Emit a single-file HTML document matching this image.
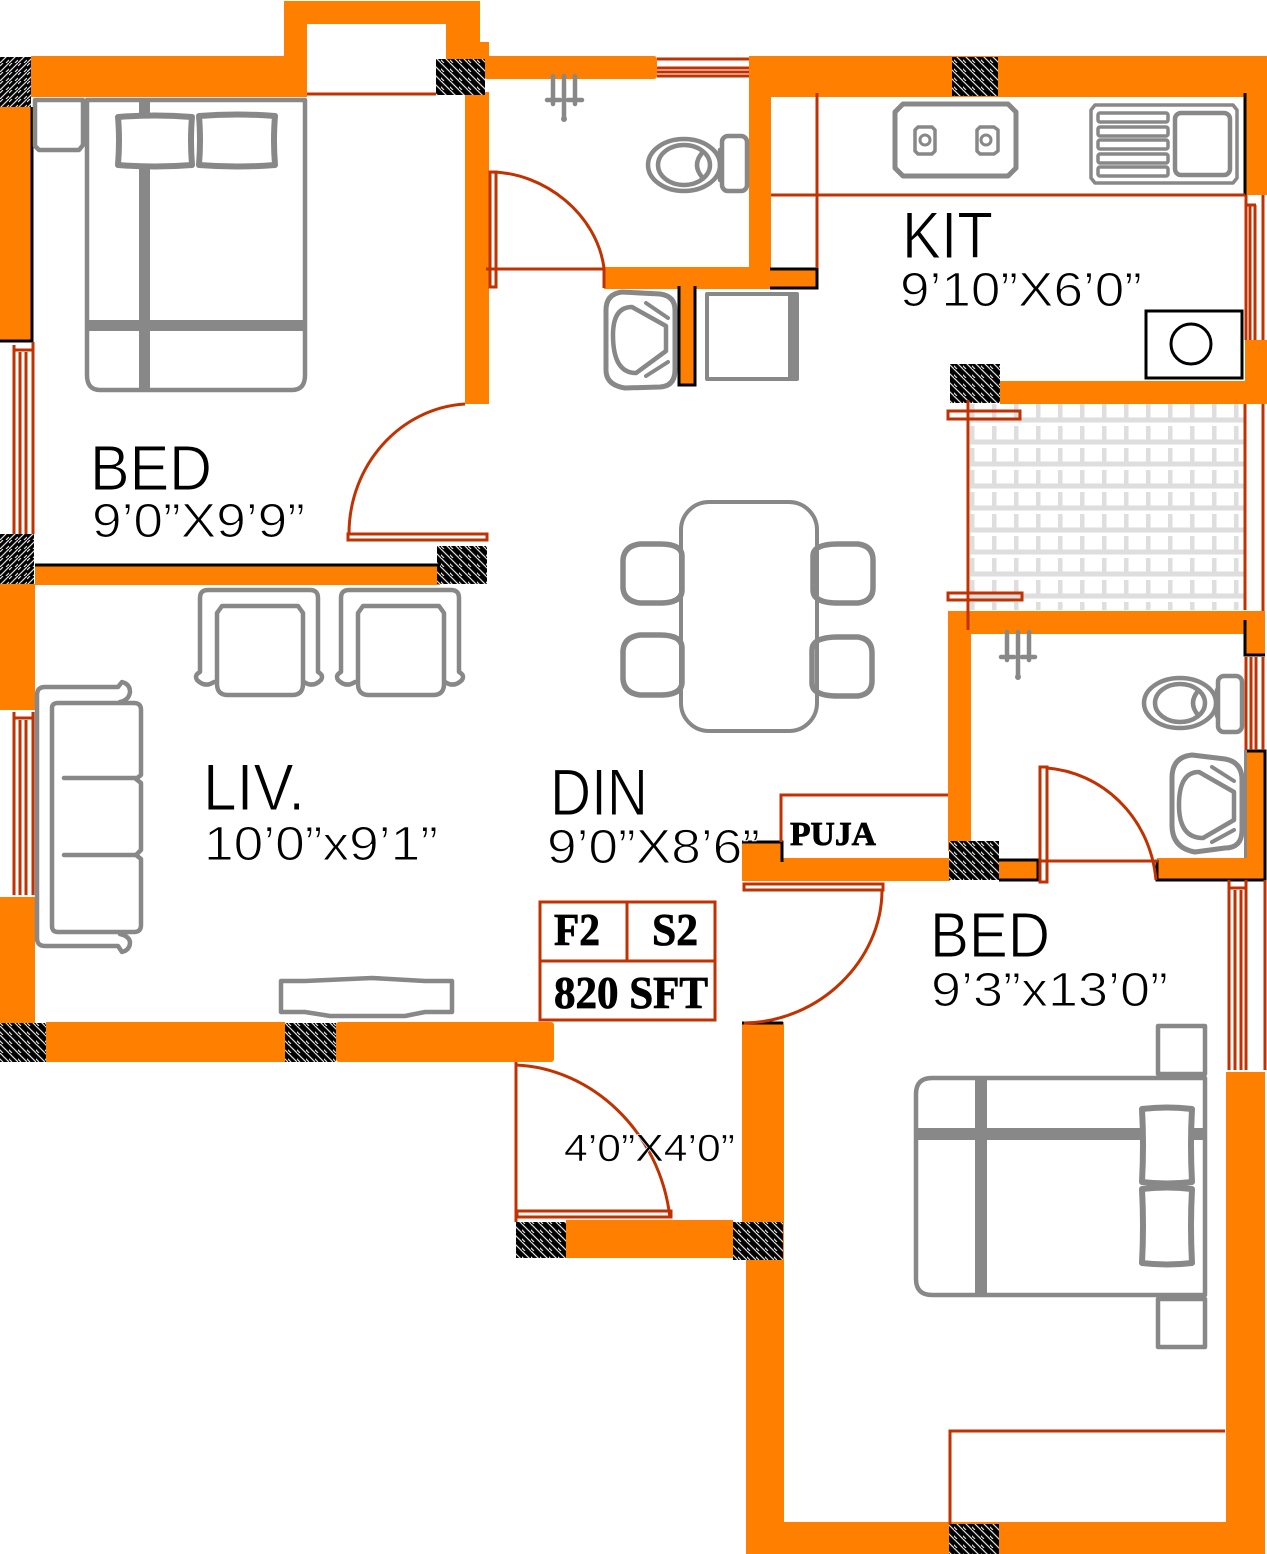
<!DOCTYPE html>
<html><head><meta charset="utf-8"><style>
html,body{margin:0;padding:0;background:#fff}svg{display:block}
.o{fill:#ff8000}
.r{fill:none;stroke:#c23200;stroke-width:3}
.g{fill:none;stroke:#888;stroke-width:4.5;stroke-linejoin:round;stroke-linecap:round}
.gf{fill:#888}
.k{fill:none;stroke:#000;stroke-width:3}
.t{font-family:"Liberation Sans",sans-serif;fill:#000;stroke:#fff;stroke-width:1.1}
.s{font-family:"Liberation Serif",serif;font-weight:bold;fill:#000;stroke:#000;stroke-width:.8}
</style></head><body>
<svg xmlns="http://www.w3.org/2000/svg" width="1267" height="1554" viewBox="0 0 1267 1554">
<defs>
<pattern id="h" width="9" height="9" patternUnits="userSpaceOnUse"><rect width="9" height="9" fill="#000"/><path d="M-3 3 L3 9 M0 0 L9 9 M6 -3 L12 3" stroke="#ddd" stroke-width="1.2"/></pattern>
<pattern id="h2" width="9" height="9" patternUnits="userSpaceOnUse"><rect width="9" height="9" fill="#000"/><path d="M9 0 L0 9 M3 0 L0 3 M9 6 L6 9" stroke="#ddd" stroke-width="1.2"/></pattern>
<pattern id="tile" x="970" y="404" width="22" height="22" patternUnits="userSpaceOnUse"><path d="M2 0 V16 H22" fill="none" stroke="#dedede" stroke-width="5"/></pattern>
</defs>
<rect width="1267" height="1554" fill="#fff"/>
<rect x="970" y="404" width="275" height="206" fill="url(#tile)"/>
<g class="o">
<rect x="284" y="1" width="196" height="23"/><rect x="284" y="1" width="23" height="96"/><rect x="446" y="1" width="34" height="60"/><rect x="465" y="42" width="24" height="20"/>
<rect x="31" y="56" width="276" height="41"/>
<rect x="0" y="107" width="32" height="234"/>
<rect x="465" y="92" width="24" height="312"/>
<rect x="484" y="56" width="173" height="23" rx="3"/>
<rect x="604" y="267" width="167" height="22"/>
<rect x="749" y="56" width="22" height="233"/>
<rect x="749" y="56" width="518" height="41"/>
<rect x="770" y="268" width="48" height="21"/>
<rect x="678" y="285" width="18" height="101"/>
<rect x="1245" y="56" width="22" height="139"/>
<rect x="1245" y="340" width="22" height="64"/>
<rect x="1000" y="381" width="267" height="23"/>
<rect x="949" y="611" width="316" height="23"/>
<rect x="948" y="611" width="23" height="240"/>
<rect x="1245" y="634" width="20" height="21"/>
<rect x="1245" y="750" width="20" height="130"/>
<rect x="742" y="858" width="208" height="23"/>
<rect x="742" y="842" width="40" height="39"/>
<rect x="999" y="860" width="39" height="20"/>
<rect x="1157" y="858" width="108" height="22"/>
<rect x="1226" y="1072" width="39" height="482"/>
<rect x="746" y="1522" width="519" height="32"/>
<rect x="746" y="1255" width="38" height="299"/>
<rect x="742" y="1022" width="42" height="233"/>
<rect x="566" y="1220" width="167" height="38"/>
<rect x="35" y="565" width="405" height="20"/>
<rect x="0" y="584" width="35" height="126"/>
<rect x="0" y="897" width="35" height="126"/>
<rect x="46" y="1022" width="239" height="40"/>
<rect x="336" y="1022" width="218" height="40" rx="3"/>
</g>
<g>
<rect x="0" y="57" width="31" height="50" fill="url(#h2)"/>
<rect x="436" y="59" width="49" height="36" fill="url(#h)"/>
<rect x="952" y="57" width="46" height="39" fill="url(#h)"/>
<rect x="950" y="364" width="50" height="39" fill="url(#h)"/>
<rect x="949" y="841" width="50" height="39" fill="url(#h)"/>
<rect x="0" y="534" width="34" height="50" fill="url(#h2)"/>
<rect x="437" y="546" width="50" height="38" fill="url(#h)"/>
<rect x="0" y="1023" width="46" height="39" fill="url(#h)"/>
<rect x="285" y="1023" width="51" height="39" fill="url(#h)"/>
<rect x="516" y="1222" width="50" height="36" fill="url(#h)"/>
<rect x="733" y="1222" width="50" height="38" fill="url(#h)"/>
<rect x="949" y="1524" width="50" height="30" fill="url(#h)"/>
</g>
<g class="k">
<path d="M32 107 V341 H0"/>
<path d="M679 286 V385 H695 V286"/>
<path d="M770 269 H817 V288 H770"/>
<path d="M1245 93 V195"/>
<path d="M1245 620 V655 H1265"/>
<path d="M1245 751 H1265 V880 H1157 V860"/>
<path d="M999 860 H1038 V880 H999"/>
<path d="M742 842 H782 V862"/>
<path d="M742 1023 H783"/>
<path d="M35 565 H440"/>
</g>
<rect x="1146" y="311" width="96" height="67" fill="#fff" stroke="#000" stroke-width="3"/>
<ellipse cx="1191" cy="344" rx="20" ry="20" fill="none" stroke="#000" stroke-width="3"/>
<g class="r">
<path d="M307 94 H436"/>
<rect x="490" y="172" width="6" height="115"/>
<path d="M490 172 C545 172 597 215 604 268 V288"/>
<path d="M486 269 H604"/>
<path d="M657 59 H749 M657 68 H749 M657 72 H749 M657 76 H749"/>
<path d="M771 195 H1245 M817 93 V268"/>
<path d="M1246 195 V340 M1250 205 V340 M1255 205 V340 M1263 195 V340 M1246 205 H1256"/>
<path d="M968 400 V630 M1245 404 V610 M1263 404 V611"/>
<rect x="948" y="411" width="72" height="8"/>
<rect x="948" y="593" width="74" height="7"/>
<path d="M1246 657 V750 M1251 657 V750 M1256 657 V750 M1263 657 V750"/>
<rect x="1040" y="767" width="7" height="115"/>
<path d="M1047 768 C1100 772 1150 815 1156 880"/>
<path d="M1040 861 H1158"/>
<path d="M781 842 V795 H948"/>
<path d="M1229 880 V1070 M1235 890 V1070 M1241 890 V1070 M1246 880 V1070 M1265 880 V1070 M1229 888 H1246"/>
<rect x="744" y="884" width="139" height="6"/>
<path d="M882 890 C882 960 820 1022 744 1023"/>
<path d="M1225 1431 H950 V1524"/>
<path d="M14 345 V534 M20 352 V534 M26 352 V534 M33 342 V534 M14 350 H33"/>
<path d="M14 712 V895 M20 720 V895 M26 720 V895 M33 712 V895 M14 718 H33"/>
<rect x="348" y="534" width="139" height="6"/>
<path d="M349 534 C349 465 400 408 465 404"/>
<path d="M516 1062 V1222"/>
<path d="M516 1065 C590 1068 660 1130 670 1218"/>
<rect x="517" y="1211" width="154" height="6"/>
<rect x="540" y="902" width="175" height="118"/>
<path d="M540 961 H715 M627 902 V961"/>
</g>
<g class="g">
<path d="M87 100 H305 V375 Q305 390 292 390 H100 Q87 390 87 375 Z"/>
<path d="M35 100 H83 V145 L79 150 H39 L35 146 Z"/>
<path d="M118 117 Q155 114 192 117 Q190 140 192 165 Q155 168 118 165 Q120 140 118 117 Z" stroke-width="6"/>
<path d="M199 116 Q237 113 275 116 Q273 140 275 165 Q237 168 199 165 Q201 140 199 116 Z" stroke-width="6"/>
</g>
<rect x="87" y="320" width="218" height="11" class="gf"/>
<rect x="139" y="100" width="11" height="15" class="gf"/><rect x="139" y="167" width="11" height="223" class="gf"/>
<g class="g">
<path d="M1205 1078 H932 Q916 1078 916 1094 V1279 Q916 1295 932 1295 H1205 Z"/>
<rect x="1158" y="1026" width="47" height="48"/>
<rect x="1158" y="1299" width="47" height="48"/>
<path d="M1142 1109 Q1167 1106 1192 1109 Q1190 1145 1192 1182 Q1167 1185 1142 1182 Q1144 1145 1142 1109 Z" stroke-width="6"/>
<path d="M1142 1189 Q1167 1186 1192 1189 Q1190 1226 1192 1263 Q1167 1266 1142 1263 Q1144 1226 1142 1189 Z" stroke-width="6"/>
</g>
<rect x="916" y="1128" width="225" height="12" class="gf"/><rect x="1193" y="1128" width="12" height="12" class="gf"/>
<rect x="975" y="1078" width="12" height="217" class="gf"/>
<g class="g">
<rect x="681" y="502" width="136" height="229" rx="28" stroke-width="4"/>
<path d="M660 544 H640 Q624 546 623 560 V588 Q624 601 640 603 H660 Q682 603 682 590 V556 Q682 544 660 544 Z" stroke-width="5.5"/>
<path d="M838 544 H858 Q873 546 873 560 V588 Q873 601 858 603 H838 Q813 603 813 590 V556 Q813 544 838 544 Z" stroke-width="5.5"/>
<path d="M660 635 H640 Q624 637 623 651 V679 Q624 693 640 695 H660 Q682 695 682 682 V648 Q682 635 660 635 Z" stroke-width="5.5"/>
<path d="M838 637 H858 Q872 639 872 653 V681 Q872 694 858 696 H838 Q812 696 812 683 V650 Q812 637 838 637 Z" stroke-width="5.5"/>
</g>
<g class="g">
<path d="M214 682 Q205 688 197 680 Q194 675 200 672 V598 Q200 590 208 590 H310 Q318 590 318 598 V672 Q324 675 321 680 Q313 688 304 682"/>
<path d="M217 684 V613 L222 606 H298 L303 613 V684 Q303 695 292 695 H228 Q217 695 217 684 Z"/>
<path d="M355 682 Q346 688 338 680 Q335 675 341 672 V598 Q341 590 349 590 H451 Q459 590 459 598 V672 Q465 675 462 680 Q454 688 445 682"/>
<path d="M358 684 V613 L363 606 H439 L444 613 V684 Q444 695 433 695 H369 Q358 695 358 684 Z"/>
<path d="M118 687 H45 Q37 687 37 695 V938 Q37 946 45 946 H118 L122 952 Q130 950 130 942 Q129 936 120 934 M118 687 L122 682 Q130 684 130 692 Q129 700 120 702"/>
<path d="M52 708 Q52 703 58 703 H134 Q141 703 141 710 V775 L136 779 L141 783 V850 L136 855 L141 859 V925 Q141 932 134 932 H58 Q52 932 52 926 Z"/>
<path d="M64 778 H136 M64 855 H136"/>
<path d="M281 981 H305 L372 978 L425 981 H452 V1012 H425 L405 1016 H330 L305 1012 H281 Z"/>
<rect x="722" y="136" width="25" height="55" rx="6"/>
<ellipse cx="684" cy="165" rx="36" ry="26"/>
<ellipse cx="684" cy="165" rx="26" ry="20"/>
<path d="M702 153 Q692 165 702 177 M720 150 V180"/>
<rect x="1218" y="676" width="24" height="56" rx="6"/>
<ellipse cx="1180" cy="703" rx="36" ry="25"/>
<ellipse cx="1180" cy="703" rx="25" ry="19"/>
<path d="M1198 691 Q1188 703 1198 715 M1217 690 V716"/>
<path d="M606 310 Q606 294 622 292 L660 294 Q675 296 675 310 V370 Q675 386 660 387 L625 388 Q606 385 606 370 Z" stroke-width="5"/>
<path d="M613 335 Q613 307 632 307 L666 326 V351 L636 373 Q613 373 613 335 Z"/>
<path d="M646 303 L668 318 M646 376 L668 362" stroke-width="4"/>
<path d="M1172 778 Q1172 757 1192 755 L1225 759 Q1242 762 1242 780 V830 Q1242 848 1225 848 L1195 852 Q1172 848 1172 825 Z" stroke-width="5"/>
<path d="M1179 805 Q1179 772 1199 772 L1234 792 V820 L1203 838 Q1179 838 1179 805 Z"/>
<path d="M1212 767 L1234 781 M1212 842 L1234 830" stroke-width="4"/>
<rect x="707" y="294" width="90" height="85" stroke-width="4"/>
<path d="M903 104 H1008 L1016 112 V168 L1008 176 H903 L895 168 V112 Z" stroke-width="5"/>
<path d="M918 127 H932 L935 130 V151 L932 154 H918 L915 151 V130 Z M980 127 H994 L998 130 V151 L994 154 H980 L977 151 V130 Z" stroke-width="3.5" transform="translate(0,0)"/>
<circle cx="925" cy="140" r="5" stroke-width="3"/><circle cx="986" cy="140" r="5" stroke-width="3"/>
<path d="M1095 105 H1233 L1237 110 V178 L1233 183 H1095 L1091 178 V110 Z" stroke-width="3.5"/>
<rect x="1098" y="113" width="70" height="9" rx="2" stroke-width="3.5"/>
<rect x="1098" y="127" width="70" height="9" rx="2" stroke-width="3.5"/>
<rect x="1098" y="140" width="70" height="9" rx="2" stroke-width="3.5"/>
<rect x="1098" y="154" width="70" height="9" rx="2" stroke-width="3.5"/>
<rect x="1098" y="167" width="70" height="9" rx="2" stroke-width="3.5"/>
<rect x="1175" y="113" width="55" height="62" rx="6"/>
<path d="M553 76 V104 M564 76 V118 M575 76 V104 M547 100 H560 M568 100 H582"/>
<path d="M1007 632 V660 M1018 632 V677 M1029 632 V660 M1001 657 H1014 M1022 657 H1035"/>
</g>
<rect x="788" y="293" width="10" height="87" class="gf"/>
<circle cx="564" cy="119" r="3" class="gf"/><circle cx="1018" cy="677" r="3" class="gf"/>
<rect x="1244" y="750" width="3" height="108" class="gf"/>
<text class="t" x="90" y="490" font-size="64" textLength="122" lengthAdjust="spacingAndGlyphs">BED</text>
<text class="t" x="92" y="537" font-size="48" textLength="213" lengthAdjust="spacingAndGlyphs">9’0”X9’9”</text>
<text class="t" x="902" y="258" font-size="66" textLength="91" lengthAdjust="spacingAndGlyphs">KIT</text>
<text class="t" x="900" y="306" font-size="48" textLength="242" lengthAdjust="spacingAndGlyphs">9’10”X6’0”</text>
<text class="t" x="203" y="810" font-size="66" textLength="102" lengthAdjust="spacingAndGlyphs">LIV.</text>
<text class="t" x="204" y="860" font-size="48" textLength="234" lengthAdjust="spacingAndGlyphs">10’0”x9’1”</text>
<text class="t" x="550" y="815" font-size="66" textLength="98" lengthAdjust="spacingAndGlyphs">DIN</text>
<text class="t" x="547" y="863" font-size="48" textLength="213" lengthAdjust="spacingAndGlyphs">9’0”X8’6”</text>
<text class="t" x="930" y="957" font-size="64" textLength="120" lengthAdjust="spacingAndGlyphs">BED</text>
<text class="t" x="931" y="1006" font-size="48" textLength="237" lengthAdjust="spacingAndGlyphs">9’3”x13’0”</text>
<text class="t" x="564" y="1161" font-size="38" textLength="171" lengthAdjust="spacingAndGlyphs" style="stroke-width:.6">4’0”X4’0”</text>
<text class="s" x="790" y="845" font-size="34" textLength="86" lengthAdjust="spacingAndGlyphs">PUJA</text>
<text class="s" x="554" y="945" font-size="45" textLength="46" lengthAdjust="spacingAndGlyphs">F2</text>
<text class="s" x="652" y="945" font-size="45" textLength="46" lengthAdjust="spacingAndGlyphs">S2</text>
<text class="s" x="554" y="1008" font-size="45" textLength="154" lengthAdjust="spacingAndGlyphs">820 SFT</text>
</svg>
</body></html>
